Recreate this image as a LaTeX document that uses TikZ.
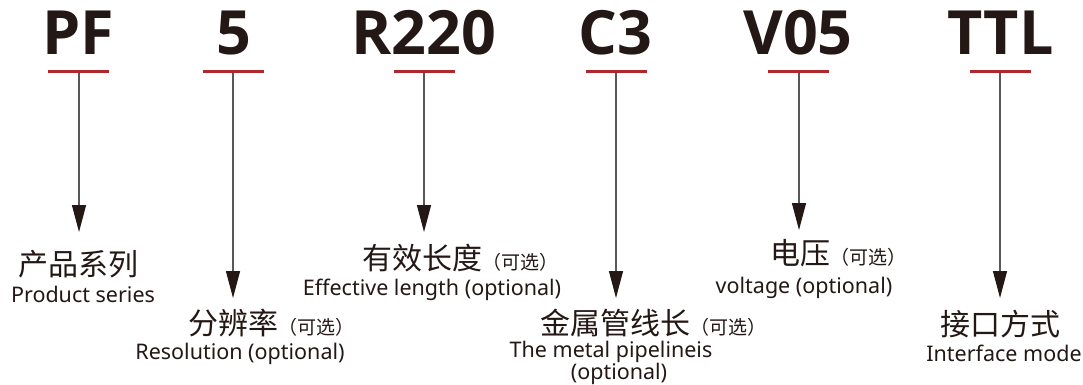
\documentclass[tikz,border=0pt]{standalone}
\usepackage{fontspec}
\setmainfont{Noto Sans}
\newfontfamily\cjk{Noto Sans CJK SC}
\newfontfamily\codefont{Open Sans}
\usetikzlibrary{arrows.meta}
\definecolor{ink}{HTML}{231815}
\definecolor{redline}{HTML}{B0282D}
\definecolor{stem}{HTML}{595757}
\tikzset{
 code/.style={anchor=base, inner sep=0pt, text=ink, font=\codefont\bfseries\fontsize{61}{61}\selectfont},
 uline/.style={fill=redline, minimum width=61pt, minimum height=3pt, inner sep=0pt, outer sep=0pt},
 pointer/.style={draw=stem, line width=1.3pt, -{Triangle[length=27pt,width=14pt,color=ink]}},
 zh/.style={anchor=base, inner sep=0pt, text=ink, font=\cjk\fontsize{30}{30}\selectfont},
 zhl/.style={zh, anchor=base west},
 en/.style={anchor=base, inner sep=0pt, text=ink, font=\fontsize{21.5}{21.5}\selectfont},
}
\newcommand{\optmark}{{\fontsize{19}{19}\selectfont（可选）}}
\begin{document}
\begin{tikzpicture}[x=1pt,y=-1pt]
\useasboundingbox[fill=white] (0,0) rectangle (1083,385);
% codes
\node[code] (c1) at (78.5,55) {PF};
\node[code] (c2) at (233.5,55) {5};
\node[code] (c3) at (424,55) {R220};
\node[code] (c4) at (615.5,55) {C3};
\node[code] (c5) at (798,55) {V05};
\node[code] (c6) at (1000.5,55) {TTL};
% tips
\coordinate (t1) at (79,232);
\coordinate (t2) at (233,298);
\coordinate (t3) at (424,232);
\coordinate (t4) at (616,298);
\coordinate (t5) at (799,230);
\coordinate (t6) at (1000,298);
% underline nodes
\node[uline] (u1) at (78.5,72) {};
\node[uline] (u2) at (233,72) {};
\node[uline] (u3) at (424,72) {};
\node[uline] (u4) at (616.5,72) {};
\node[uline] (u5) at (798.5,72) {};
\node[uline] (u6) at (1000.5,72) {};
% pointers
\draw[pointer] (u1.south -| t1) -- (t1);
\draw[pointer] (u2.south -| t2) -- (t2);
\draw[pointer] (u3.south -| t3) -- (t3);
\draw[pointer] (u4.south -| t4) -- (t4);
\draw[pointer] (u5.south -| t5) -- (t5);
\draw[pointer] (u6.south -| t6) -- (t6);
% labels
\node[zh] (z1) at (78.5,275) {产品系列};
\node[en] (e1) at (83,302) {Product series};
\node[zhl] (z2) at (188,334) {分辨率\optmark};
\node[en] (e2) at (240,359) {Resolution (optional)};
\node[zhl] (z3) at (362,269) {有效长度\optmark};
\node[en] (e3) at (432,295) {Effective length (optional)};
\node[zhl] (z4) at (540,334) {金属管线长\optmark};
\node[en] (e4) at (611,357) {The metal pipelineis};
\node[en] (e4b) at (619,379) {(optional)};
\node[zhl] (z5) at (770,264) {电压\optmark};
\node[en] (e5) at (804,293) {voltage (optional)};
\node[zh] (z6) at (1000,335) {接口方式};
\node[en] (e6) at (1004,361) {Interface mode};
\end{tikzpicture}
\end{document}
